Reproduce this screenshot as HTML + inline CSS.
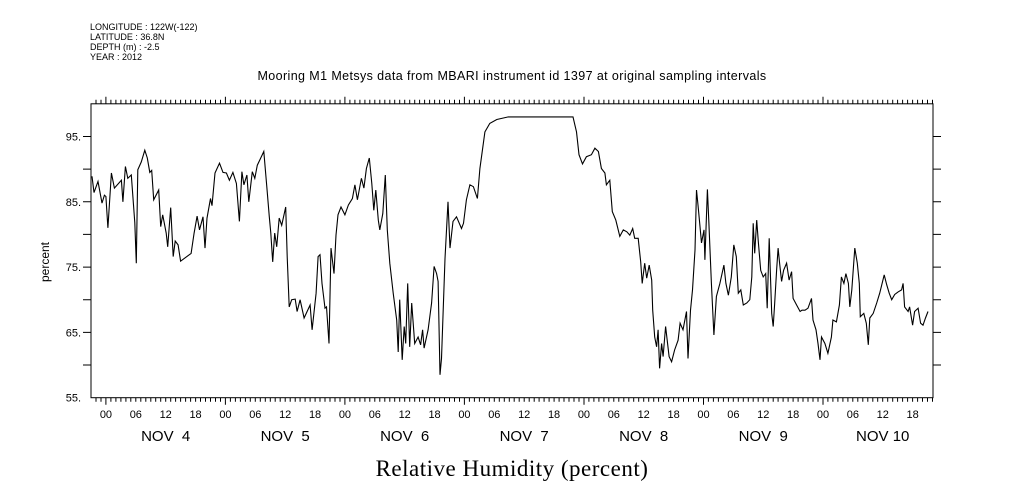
<!DOCTYPE html>
<html><head><meta charset="utf-8"><style>
body{margin:0;background:#fff;}
svg{display:block;font-family:"Liberation Sans",sans-serif;}
</style></head><body>
<svg id="chart" width="1009" height="504" viewBox="0 0 1009 504">
<g font-size="9" fill="#000">
<text x="90" y="30">LONGITUDE : 122W(-122)</text>
<text x="90" y="40">LATITUDE : 36.8N</text>
<text x="90" y="50">DEPTH (m) : -2.5</text>
<text x="90" y="60">YEAR : 2012</text>
</g>
<text x="512" y="80" font-size="12.5" text-anchor="middle" letter-spacing="0.4">Mooring M1 Metsys data from MBARI instrument id 1397 at original sampling intervals</text>
<text transform="translate(49,262) rotate(-90)" font-size="12" text-anchor="middle">percent</text>
<text x="512" y="476" font-family="Liberation Serif,serif" font-size="23" text-anchor="middle" letter-spacing="0.5">Relative Humidity (percent)</text>
<rect x="91" y="103.8" width="842" height="293.9" fill="none" stroke="#000" stroke-width="1"/>
<g id="axes"></g>
<path id="line" fill="none" stroke="#000" stroke-width="1.1"/>
</svg>
<script>
// hours from Nov 4 00:00
const hours=[-2.8,-2.4,-1.6,-0.8,-0.3,0,0.4,1.1,1.7,3.1,3.4,3.9,4.4,5.1,5.8,6.1,6.4,7.1,7.8,8.3,8.8,9.2,9.6,10.6,11.0,11.4,12.1,12.4,13.0,13.5,13.9,14.5,15.0,17.1,17.7,18.3,18.8,19.5,19.9,20.3,21.0,21.3,21.9,22.8,23.5,24.2,24.8,25.5,26.2,26.8,27.3,27.7,28.3,28.7,29.4,29.9,30.4,30.9,31.7,32.3,32.8,33.1,33.5,33.9,34.3,34.8,35.3,36.1,36.4,36.8,37.3,38.0,38.4,39.0,39.8,41.0,41.4,42.2,42.6,43.0,43.4,44.0,44.3,44.8,45.2,45.8,46.2,46.6,47.2,48.0,48.7,49.5,50.0,50.5,51.3,51.8,52.3,52.9,53.4,53.8,54.2,54.7,55.0,55.6,56.1,56.5,57.0,57.7,58.4,58.7,59.0,59.5,59.9,60.2,60.6,61.0,61.4,62.0,62.7,63.2,63.6,63.9,64.7,65.4,65.9,66.4,66.7,67.1,67.4,68.1,68.7,69.1,69.7,70.4,71.4,71.8,72.4,73.1,73.8,74.6,75.1,76.1,77.1,78.5,80.8,93.8,94.5,95.0,95.7,96.5,97.5,98.2,98.9,99.5,100.2,100.5,101.2,101.7,102.4,103.2,103.9,104.6,105.2,105.8,106.2,106.9,107.4,107.7,108.2,108.6,109.1,109.6,109.8,110.2,110.6,110.9,111.2,111.6,111.9,112.4,113.1,113.6,114.2,114.9,115.3,115.9,116.6,116.9,117.4,117.8,118.3,118.6,118.9,119.3,119.6,120.1,120.3,120.8,121.1,121.6,122.1,122.6,123.3,124.1,124.5,125.0,125.6,126.1,126.6,127.0,127.5,128.0,128.7,129.3,129.7,130.0,130.3,130.7,131.0,131.5,132.0,132.5,132.8,133.2,133.7,134.0,134.3,134.7,135.0,135.3,135.7,136.1,136.7,137.2,137.7,138.0,138.7,139.4,139.8,140.4,141.0,141.7,142.0,142.6,143.0,143.4,143.7,144.4,145.0,145.7,146.0,146.7,147.3,147.7,148.2,148.6,149.1,149.4,149.8,150.4,150.9,151.3,151.5,152.2,152.7,153.1,153.4,154.1,154.8,155.4,156.3,156.8,157.3,157.8,158.4,159.1,159.8,160.1,160.4,161.1,161.4,162.0,162.4,163.1,163.6,164.1,164.6,165.1];
const humidity=[88.9,86.4,88.1,84.8,86.0,85.8,81.0,89.4,87.1,88.3,85.0,90.4,88.6,89.1,81.8,75.6,89.9,91.1,92.9,91.7,89.5,89.8,85.3,86.8,81.2,83.0,80.2,78.1,84.1,76.6,79.0,78.4,75.9,77.1,80.2,82.8,80.7,82.7,77.9,82.5,85.5,84.4,89.4,90.9,89.5,89.4,88.3,89.5,87.8,82.0,89.6,87.6,89.1,85.0,89.6,88.6,90.6,91.4,92.7,87.3,82.7,80.2,75.8,80.2,78.1,82.5,81.4,84.2,76.6,68.9,70.0,70.1,68.2,70.0,67.2,69.2,65.4,71.0,76.6,76.9,72.5,68.7,68.9,63.3,77.9,74.0,79.9,83.0,84.2,83.0,84.5,85.5,87.6,85.3,88.6,87.1,90.1,91.7,87.8,83.7,86.8,82.2,80.7,83.2,89.1,80.7,75.6,71.0,66.9,62.0,70.0,60.8,65.9,63.3,72.5,62.8,69.5,63.3,64.3,63.1,65.4,62.6,65.4,69.5,75.1,74.0,72.8,58.5,61.0,76.3,85.0,77.9,82.0,82.7,80.9,81.7,85.3,87.6,87.3,85.5,90.1,95.7,97.0,97.6,98.0,98.0,95.7,92.2,90.8,91.9,92.2,93.2,92.7,90.1,89.4,87.6,88.3,83.5,82.2,79.7,80.7,80.4,79.9,80.9,79.4,79.4,75.8,72.5,75.6,73.3,75.3,73.0,68.4,64.3,62.8,65.4,59.5,63.3,61.3,65.9,61.3,60.5,62.3,63.8,66.4,65.4,68.2,61.0,68.4,71.5,77.6,86.8,84.5,81.2,78.7,80.7,76.1,86.9,81.7,72.5,64.6,70.5,72.5,75.3,72.5,70.7,73.5,78.4,76.6,71.0,71.5,69.2,69.5,70.0,73.5,81.7,77.1,82.2,79.1,74.5,73.5,74.0,68.7,79.4,67.9,65.9,69.5,74.5,77.9,75.6,72.8,74.5,75.6,73.0,74.3,70.2,69.2,68.2,68.4,68.4,68.7,70.2,66.9,65.4,63.3,60.8,64.3,63.3,61.8,64.3,66.9,66.6,69.2,73.5,72.5,74.0,72.5,68.9,71.5,77.9,75.6,72.5,67.4,67.9,66.4,63.1,67.2,67.9,69.5,71.0,73.8,72.3,71.0,70.0,70.8,71.2,71.5,72.5,68.9,68.2,68.9,66.1,68.2,68.7,66.4,66.1,67.2,68.2];
const yTicks=[55,60,65,70,75,80,85,90,95,100];
const yLabels=["55.","","65.","","75.","","85.","","95.",""];
const dayLabels=["NOV  4","NOV  5","NOV  6","NOV  7","NOV  8","NOV  9","NOV 10"];
const hourLabels=["00","06","12","18"];

const X0=91,X1=933,Y0=397.7,Y1=103.8,H0=-3,H1=166.1,V0=55,V1=100;
function xs(h){return X0+(h-H0)/(H1-H0)*(X1-X0);}
function ys(v){return Y0-(v-V0)/(V1-V0)*(Y0-Y1);}
const NS="http://www.w3.org/2000/svg";
const ax=document.getElementById('axes');
function mk(tag,attrs,parent){const e=document.createElementNS(NS,tag);for(const k in attrs)e.setAttribute(k,attrs[k]);(parent||ax).appendChild(e);return e;}
let d="";
for(let h=-2;h<=166;h++){
  const x=xs(h).toFixed(1);const major=((h%24)+24)%24===0;
  d+=`M${x} ${Y0}V${Y0+(major?7:4)}M${x} ${Y1}V${Y1-(major?7:4)}`;
}
yTicks.forEach(v=>{const y=ys(v).toFixed(1);if(v>55&&v<100)d+=`M${X0} ${y}H${X0-8}M${X1} ${y}H${X1+8}`;});
const tp=mk('path',{d:d,stroke:'#000','stroke-width':1,fill:'none'});


yTicks.forEach((v,i)=>{if(!yLabels[i])return;
  const t=mk('text',{x:X0-10,y:ys(v)+4,'font-size':11,'text-anchor':'end'});
  
  
  t.textContent=yLabels[i];});
dayLabels.forEach((lab,di)=>{
  hourLabels.forEach((hl,hi)=>{const h=di*24+hi*6;
    const t=mk('text',{x:xs(h),y:418,'font-size':11,'text-anchor':'middle'});
    
    
    t.textContent=hl;});
  const t=mk('text',{x:xs(di*24+12),y:441,'font-size':15,'text-anchor':'middle','xml:space':'preserve'});
  
  
  t.setAttribute('style','white-space:pre');
  t.textContent=lab;});
document.getElementById('line').setAttribute('d',hours.map((h,i)=>(i?'L':'M')+xs(h).toFixed(1)+' '+ys(humidity[i]).toFixed(1)).join(''));
</script>
</body></html>
